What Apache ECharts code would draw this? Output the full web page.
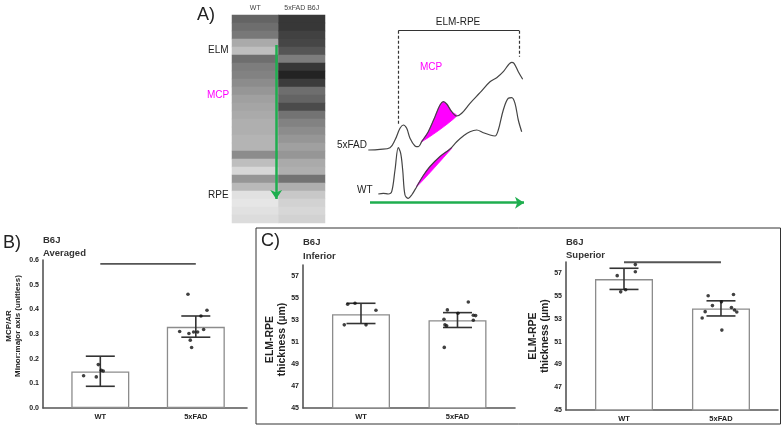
<!DOCTYPE html>
<html>
<head>
<meta charset="utf-8">
<script src="https://cdn.jsdelivr.net/npm/echarts@6/dist/echarts.min.js"></script>
<style>
html, body { margin: 0; background: #fff; }
#chart { width: 784px; height: 427px; }
</style>
</head>
<body>
<div id="chart"></div>
<script>
var groups = ['WT', '5xFAD'];

// A) OCT strip, grey level per depth row (top = ELM side)
var stripCols = ['WT', '5xFAD B6J'];
var wtBands = [100, 110, 120, 170, 190, 110, 125, 130, 140, 150, 160, 165, 170, 175, 175, 180, 180, 140, 190, 215, 150, 185, 225, 230, 225, 220];
var fadBands = [55, 55, 65, 70, 85, 125, 55, 35, 60, 110, 100, 75, 115, 130, 140, 150, 160, 150, 170, 175, 115, 175, 200, 210, 215, 210];

// A) intensity profiles along depth [depth, intensity]
var fadProfile = [[18.3, 65], [30, 65.7], [40, 67.3], [45, 75], [50, 86.7], [53.3, 90], [56.7, 86.7], [60, 76.7], [65, 69], [68.3, 68.3],
  [71.7, 73.3], [78.3, 83.3], [85, 98.3], [90, 110], [93.3, 113.3], [96.7, 111], [101.7, 103.3], [106.7, 99], [111.7, 101.7],
  [120, 111.7], [130, 122.3], [140, 133.3], [146.7, 137.3], [153.3, 143.3], [158.3, 150], [161.7, 152.7], [164, 151.7], [168.3, 143.3], [172.7, 135.7]];
var wtProfile = [[28.3, 21], [33.3, 21.7], [38.3, 21], [41.7, 23.3], [45, 45], [48.3, 67.3], [50.7, 61.7], [52.7, 45], [55, 20], [58.3, 16.7],
  [61.7, 20], [66.7, 28.3], [73.3, 39.5], [80, 48.5], [90, 58.5], [100, 66], [106.7, 73.3], [113.3, 79], [120, 83.3], [126.7, 85],
  [133.3, 82.3], [140, 80], [145, 79], [148.3, 85], [153.3, 105], [158.3, 116.7], [161.7, 117.3], [165, 111.7], [168.3, 95], [171.7, 83.3]];
var fadMcp = [[71.7, 73.3], [78.3, 83.3], [85, 98.3], [90, 110], [93.3, 113.3], [96.7, 111], [101.7, 103.3], [106.7, 99]];
var wtMcp = [[66.7, 28.3], [73.3, 39.5], [80, 48.5], [90, 58.5], [100, 66], [102, 67]];
var elmDepth = 48.3, rpeDepth = 169.3;

// B) MCP/AR averaged: [jitter, value]
var mcpMean = [0.148, 0.329];
var mcpSd = [[0.088, 0.210], [0.287, 0.373]];
var mcpWT = [[-0.175, 0.131], [-0.042, 0.126], [-0.021, 0.176], [0.010, 0.153], [0.031, 0.150]];
var mcpFAD = [[-0.082, 0.461], [0.117, 0.396], [0.054, 0.373], [-0.169, 0.310], [-0.072, 0.302], [-0.023, 0.308],
  [0.019, 0.308], [0.082, 0.318], [-0.058, 0.275], [-0.044, 0.245]];
var mcpSig = 0.584;
var mcpTicks = [0, 0.1, 0.2, 0.3, 0.4, 0.5, 0.6];

// C) ELM-RPE thickness (µm)
var infMean = [53.52, 52.98];
var infSd = [[52.68, 54.52], [52.32, 53.67]];
var infWT = [[-0.138, 54.43], [-0.062, 54.52], [0.155, 53.89], [-0.173, 52.56], [0.052, 52.56]];
var infFAD = [[0.112, 54.64], [-0.105, 53.92], [0.005, 53.61], [-0.14, 53.07], [0.164, 53.43], [0.188, 53.40],
  [0.164, 52.98], [-0.13, 52.56], [-0.112, 52.47], [-0.137, 50.51]];

var supMean = [56.5, 53.91];
var supSd = [[55.59, 57.45], [53.26, 54.59]];
var supWT = [[-0.07, 56.8], [0.117, 57.77], [0.117, 57.15], [-0.034, 55.38], [0.017, 55.56]];
var supFAD = [[-0.132, 55.03], [0.129, 55.15], [0.005, 54.5], [-0.088, 54.17], [0.108, 54.0], [0.139, 53.79],
  [0.163, 53.61], [-0.163, 53.64], [-0.194, 53.08], [0.009, 52.02]];
var supSig = 57.98;
var thickTicks = [45, 47, 49, 51, 53, 55, 57];

var FONT = 'Liberation Sans, Arial, sans-serif';
var GREEN = '#1fae4f';
var MAGENTA = '#ff00ff';

var myChart = echarts.init(document.getElementById('chart'));

function errorBar(params, api) {
    var x = api.value(0);
    var lo = api.coord([x, api.value(1)]);
    var hi = api.coord([x, api.value(2)]);
    var w = 14.5;
    var st = { stroke: '#333', lineWidth: 1.6 };
    return {
        type: 'group',
        children: [
            { type: 'line', shape: { x1: hi[0], y1: hi[1], x2: lo[0], y2: lo[1] }, style: st },
            { type: 'line', shape: { x1: hi[0] - w, y1: hi[1], x2: hi[0] + w, y2: hi[1] }, style: st },
            { type: 'line', shape: { x1: lo[0] - w, y1: lo[1], x2: lo[0] + w, y2: lo[1] }, style: st }
        ]
    };
}

function polygonOf(points) {
    return function (params, api) {
        return {
            type: 'polygon',
            shape: { points: points.map(function (p) { return api.coord(p); }), smooth: 0.3 },
            style: { fill: MAGENTA, stroke: MAGENTA, lineWidth: 0.8 }
        };
    };
}

function jitter(pts, g) {
    return pts.map(function (p) { return [g + p[0], p[1]]; });
}

function barSeries(idx, mean, sd, wt, fad, sig) {
    var list = [
        {
            type: 'bar', xAxisIndex: idx, yAxisIndex: idx, barWidth: 58,
            data: mean.map(function (v, i) { return [i, v]; }),
            itemStyle: { color: '#fff', borderColor: '#8c8c8c', borderWidth: 1.3 },
            silent: true
        },
        {
            type: 'custom', xAxisIndex: idx, yAxisIndex: idx, renderItem: errorBar,
            data: sd.map(function (r, i) { return [i, r[0], r[1]]; }),
            encode: { x: 0, y: [1, 2] }, z: 3, silent: true
        },
        {
            type: 'scatter', xAxisIndex: idx, yAxisIndex: idx, symbolSize: 3.6,
            data: jitter(wt, 0).concat(jitter(fad, 1)),
            itemStyle: { color: '#111' }, z: 4, silent: true
        }
    ];
    if (sig != null) {
        list.push({
            type: 'line', xAxisIndex: idx, yAxisIndex: idx, symbol: 'none',
            data: [[0, sig], [1, sig]],
            lineStyle: { color: '#555', width: 1.8 }, z: 2, silent: true
        });
    }
    return list;
}

function xAxisFor(idx, min, max) {
    return {
        type: 'value', gridIndex: idx, min: min, max: max,
        splitLine: { show: false },
        axisLine: { onZero: false, lineStyle: { color: '#555', width: 1.6 } },
        axisTick: { show: false },
        axisLabel: {
            customValues: [0, 1], margin: 5,
            fontFamily: FONT, fontSize: 7.5, fontWeight: 'bold', color: '#222',
            formatter: function (v) { return groups[Math.round(v)]; }
        }
    };
}

function yAxisFor(idx, min, max, ticks, name, gap, digits, nameSize, shift) {
    return {
        type: 'value', gridIndex: idx, min: min, max: max,
        splitLine: { show: false },
        axisLine: { show: true, onZero: false, lineStyle: { color: '#555', width: 1.6 } },
        axisTick: { show: false },
        axisLabel: {
            customValues: ticks, margin: 4,
            fontFamily: FONT, fontSize: 7, fontWeight: 'bold', color: '#222',
            formatter: function (v) { return v.toFixed(digits); }
        },
        name: name, nameLocation: 'middle', nameGap: gap, nameRotate: 90,
        nameTextStyle: {
            fontFamily: FONT, color: '#222', align: 'center',
            padding: shift > 0 ? [0, 0, 0, shift] : [0, -shift, 0, 0],
            rich: {
                a: { fontFamily: FONT, fontSize: nameSize, fontWeight: 'bold', color: '#222', lineHeight: nameSize + 1.5 },
                b: { fontFamily: FONT, fontSize: nameSize, fontWeight: 'bold', color: '#222', lineHeight: nameSize + 1.5 }
            }
        }
    };
}

function hidden(idx, min, max, inverse) {
    return { type: 'value', gridIndex: idx, min: min, max: max, inverse: !!inverse, show: false };
}

function txt(text, x, y, size, opt) {
    opt = opt || {};
    return {
        type: 'text', x: x, y: y, silent: true,
        style: {
            text: text, fontFamily: FONT, fontSize: size,
            fontWeight: opt.bold ? 'bold' : 'normal',
            fill: opt.color || '#222', align: opt.align || 'left', verticalAlign: 'middle'
        }
    };
}

// heatmap cells
var rows = wtBands.map(function (v, i) { return String(i); });
var heat = [];
[wtBands, fadBands].forEach(function (col, c) {
    col.forEach(function (v, r) { heat.push([c, r, v]); });
});

var series = [
    {
        type: 'heatmap', xAxisIndex: 3, yAxisIndex: 3, data: heat, silent: true
    },
    {
        type: 'lines', coordinateSystem: 'cartesian2d', xAxisIndex: 4, yAxisIndex: 4,
        symbol: ['none', 'arrow'], symbolSize: 9, silent: true,
        lineStyle: { color: GREEN, width: 2.5, opacity: 1 },
        data: [{ coords: [[0.95, 3.75], [0.95, 23.0]] }]
    },
    {
        type: 'custom', xAxisIndex: 5, yAxisIndex: 5, renderItem: polygonOf(fadMcp),
        data: [[0, 0]], silent: true, z: 1
    },
    {
        type: 'custom', xAxisIndex: 5, yAxisIndex: 5, renderItem: polygonOf(wtMcp),
        data: [[0, 0]], silent: true, z: 1
    },
    {
        type: 'line', xAxisIndex: 5, yAxisIndex: 5, data: fadProfile, smooth: 0.35, symbol: 'none',
        lineStyle: { color: '#444', width: 1.2 }, z: 3, silent: true
    },
    {
        type: 'line', xAxisIndex: 5, yAxisIndex: 5, data: wtProfile, smooth: 0.35, symbol: 'none',
        lineStyle: { color: '#444', width: 1.2 }, z: 3, silent: true
    },
    {
        type: 'lines', coordinateSystem: 'cartesian2d', xAxisIndex: 5, yAxisIndex: 5, silent: true,
        symbol: 'none',
        data: [
            { coords: [[elmDepth, 184.3], [rpeDepth, 184.3]], lineStyle: { color: '#333', width: 1.1, opacity: 1 } },
            { coords: [[elmDepth, 184.3], [elmDepth, 90]], lineStyle: { color: '#333', width: 1.2, type: [3, 2], opacity: 1 } },
            { coords: [[rpeDepth, 184.3], [rpeDepth, 158.3]], lineStyle: { color: '#333', width: 1.2, type: [3, 2], opacity: 1 } }
        ]
    },
    {
        type: 'lines', coordinateSystem: 'cartesian2d', xAxisIndex: 5, yAxisIndex: 5, silent: true,
        symbol: ['none', 'arrow'], symbolSize: 9,
        lineStyle: { color: GREEN, width: 2.5, opacity: 1 },
        data: [{ coords: [[20, 12.3], [174, 12.3]] }]
    }
].concat(
    barSeries(0, mcpMean, mcpSd, mcpWT, mcpFAD, mcpSig),
    barSeries(1, infMean, infSd, infWT, infFAD, null),
    barSeries(2, supMean, supSd, supWT, supFAD, supSig)
);

var option = {
    animation: false,
    backgroundColor: '#fff',
    grid: [
        { left: 43, top: 260, width: 204, height: 148 },
        { left: 303, top: 265, width: 212, height: 143 },
        { left: 566, top: 262, width: 212, height: 148 },
        { left: 232, top: 15, width: 93, height: 208 },
        { left: 232, top: 15, width: 93, height: 208 },
        { left: 350, top: 10, width: 190, height: 205 }
    ],
    xAxis: [
        xAxisFor(0, -0.6, 1.536),
        xAxisFor(1, -0.601, 1.596),
        xAxisFor(2, -0.598, 1.588),
        {
            type: 'category', gridIndex: 3, data: stripCols, position: 'top',
            axisLine: { show: false }, axisTick: { show: false },
            axisLabel: { fontFamily: FONT, fontSize: 7, color: '#444', margin: 3 }
        },
        hidden(4, 0, 2),
        hidden(5, 0, 190)
    ],
    yAxis: [
        yAxisFor(0, 0, 0.6, mcpTicks, '{a|MCP/AR}\n{b|Minor:major axis (unitless)}', 20, 1, 8, 16),
        yAxisFor(1, 45, 58, thickTicks, '{a|ELM-RPE}\n{b|thickness (µm)}', 12, 0, 10.5, -6),
        yAxisFor(2, 45, 58, thickTicks, '{a|ELM-RPE}\n{b|thickness (µm)}', 11, 0, 10.5, 0),
        { type: 'category', gridIndex: 3, data: rows, inverse: true, show: false },
        hidden(4, 0, 26, true),
        hidden(5, 0, 205)
    ],
    visualMap: {
        show: false, seriesIndex: 0, min: 0, max: 255,
        inRange: { color: ['#000000', '#ffffff'] }
    },
    series: series,
    graphic: [
        { type: 'rect', silent: true, z: -1, shape: { x: 256, y: 228, width: 524.5, height: 196 },
          style: { fill: 'none', stroke: '#333', lineWidth: 1 } },
        txt('A)', 197, 15, 18),
        txt('ELM', 208, 50, 10),
        txt('MCP', 207, 95, 10, { color: MAGENTA }),
        txt('RPE', 208, 195, 10),
        txt('ELM-RPE', 458, 22, 10, { align: 'center' }),
        txt('MCP', 431, 67, 10, { align: 'center', color: MAGENTA }),
        txt('5xFAD', 367, 145, 10, { align: 'right' }),
        txt('WT', 357, 190, 10),
        txt('B)', 3, 243, 18),
        txt('B6J', 43, 240, 9.5, { bold: true, color: '#333' }),
        txt('Averaged', 43, 253, 9.5, { bold: true, color: '#333' }),
        txt('C)', 261, 241, 18),
        txt('B6J', 303, 242, 9.5, { bold: true, color: '#333' }),
        txt('Inferior', 303, 256, 9.5, { bold: true, color: '#333' }),
        txt('B6J', 566, 242, 9.5, { bold: true, color: '#333' }),
        txt('Superior', 566, 255, 9.5, { bold: true, color: '#333' })
    ]
};
myChart.setOption(option);
</script>
</body>
</html>
